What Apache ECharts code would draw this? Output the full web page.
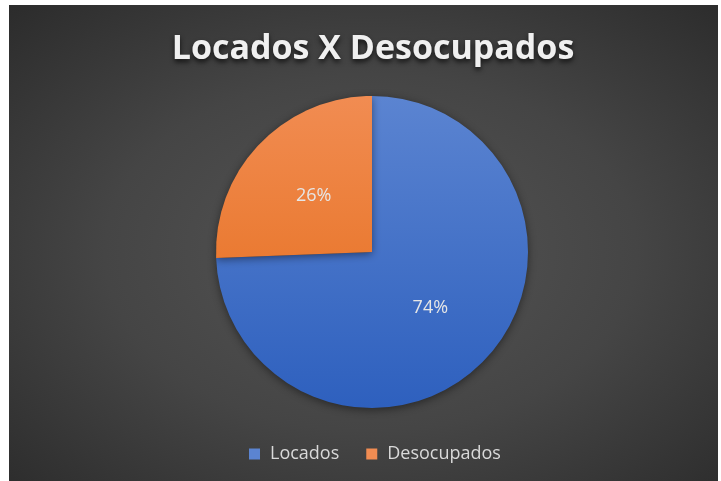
<!DOCTYPE html>
<html>
<head>
<meta charset="utf-8">
<script src="https://cdn.jsdelivr.net/npm/echarts@6/dist/echarts.min.js"></script>
<style>
  html, body { margin: 0; padding: 0; background: #ffffff; }
  #bg {
    position: absolute; left: 9px; top: 5px; width: 709px; height: 476px;
    background: radial-gradient(ellipse 75% 75% at 51% 52%, #555555 0%, #454545 50%, #2a2a2a 100%);
  }
  #main { position: absolute; left: 0; top: 0; width: 721px; height: 481px; }
</style>
</head>
<body>
<div id="bg"></div>
<div id="main"></div>
<script>
// dados do gráfico
var categorias = ['Locados', 'Desocupados'];
var valores = [74.4, 25.6];
var cores = [
  ['#5b84d1', '#2e60be'],
  ['#f18c52', '#e46a15']
];

var myChart = echarts.init(document.getElementById('main'));

var dados = categorias.map(function (nome, i) {
  return {
    name: nome,
    value: valores[i],
    itemStyle: {
      color: {
        type: 'linear', x: 0, y: 96, x2: 0, y2: 408, global: true,
        colorStops: [
          { offset: 0, color: cores[i][0] },
          { offset: 1, color: cores[i][1] }
        ]
      }
    }
  };
});

var option = {
  backgroundColor: 'transparent',
  animation: false,
  color: [cores[0][1], cores[1][1]],
  title: {
    text: 'Locados X Desocupados',
    left: 368,
    textAlign: 'center',
    top: 27,
    textStyle: {
      fontFamily: 'Open Sans',
      fontWeight: 'bold',
      fontSize: 34,
      color: '#f0f0f0',
      textShadowColor: 'rgba(0,0,0,0.7)',
      textShadowBlur: 5,
      textShadowOffsetY: 3
    }
  },
  legend: {
    data: categorias,
    left: 244,
    top: 440,
    icon: 'rect',
    itemWidth: 11,
    itemHeight: 11,
    itemGap: 27,
    textStyle: {
      fontFamily: 'Open Sans',
      fontSize: 18,
      color: '#d9d9d9',
      padding: [0, 0, 0, 5]
    }
  },
  series: [
    {
      type: 'pie',
      center: [372, 252],
      radius: [0, 156],
      startAngle: 90,
      clockwise: true,
      label: {
        show: true,
        position: 'inside',
        formatter: function (p) { return Math.round(p.percent) + '%'; },
        fontFamily: 'Open Sans',
        fontSize: 18,
        color: '#e6e6e6'
      },
      labelLine: { show: false },
      itemStyle: {
        borderWidth: 0,
        shadowColor: 'rgba(0,0,0,0.45)',
        shadowBlur: 8,
        shadowOffsetY: 2
      },
      emphasis: { disabled: true },
      data: dados
    }
  ]
};

myChart.setOption(option);
</script>
</body>
</html>
